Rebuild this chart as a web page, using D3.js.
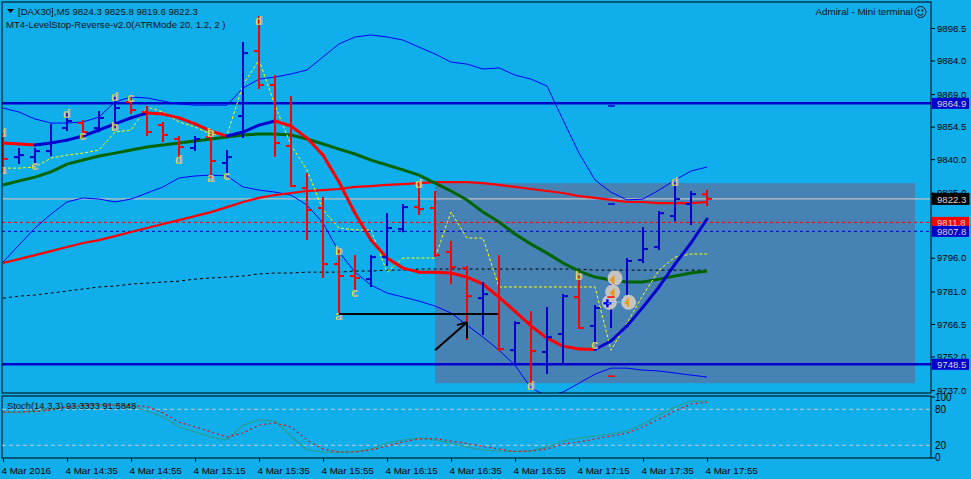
<!DOCTYPE html>
<html><head><meta charset="utf-8">
<script src="https://cdn.jsdelivr.net/npm/d3@7"></script>
<style>
body{margin:0;background:#10aeea;}
svg{display:block;font-family:"Liberation Sans",Arial,sans-serif;}
</style></head><body>
<script>
// bars: DAX30 M5, 4 Mar 2016, first bar 14:15, one bar every 5 minutes
const barStart = new Date(2016, 2, 4, 14, 15);
const barStep = 5;
const opens  = [9848.5,9840.9,9840.9,9843.6,9853.9,9856.1,9853.9,9855.2,9865.5,9861.0,9855.2,9849.0,9845.0,9849.9,9838.3,9859.2,9888.2,9873.1,9845.9,9827.1,9818.2,9793.2,9787.9,9786.5,9796.3,9808.8,9818.6,9818.2,9798.6,9791.4,9778.0,9779.4,9754.8,9767.3,9754.0,9762.0,9778.5,9765.6,9775.8,9778.0,9795.0,9800.8,9814.6,9820.0,9824.3];
const highs  = [9850.8,9844.5,9844.5,9855.2,9860.1,9857.0,9861.0,9867.3,9866.8,9863.3,9856.1,9849.9,9849.9,9850.8,9843.6,9891.8,9903.4,9877.1,9867.7,9833.4,9822.7,9799.9,9796.8,9796.8,9815.5,9819.5,9829.8,9825.3,9803.0,9791.9,9784.7,9796.8,9767.3,9771.8,9773.6,9779.4,9787.4,9774.5,9787.4,9795.4,9809.3,9816.4,9829.3,9825.3,9825.8];
const lows   = [9834.3,9838.3,9838.3,9841.8,9853.0,9849.9,9852.5,9854.3,9860.6,9850.8,9848.1,9840.9,9844.1,9832.0,9834.3,9849.9,9871.7,9841.4,9828.0,9804.4,9787.4,9770.9,9781.6,9783.4,9792.8,9807.9,9815.5,9796.8,9784.7,9759.8,9762.0,9754.8,9749.0,9740.1,9744.6,9749.0,9764.7,9758.0,9765.1,9777.2,9794.1,9799.9,9812.8,9811.1,9819.6];
const closes = [9840.1,9841.8,9843.6,9847.6,9857.0,9852.1,9858.4,9862.8,9861.9,9852.1,9850.8,9845.4,9849.0,9839.2,9840.9,9887.3,9873.1,9847.2,9828.0,9817.3,9793.2,9787.9,9787.0,9796.3,9809.3,9818.6,9817.7,9797.2,9791.9,9778.9,9779.8,9755.3,9766.9,9754.4,9760.6,9778.9,9764.7,9773.6,9783.8,9794.6,9799.9,9815.9,9822.2,9824.4,9822.3];

// indicators, one value per bar
const maFast  = [9847.2,9846.75,9846.3,9847.2,9848.5,9850.3,9853.0,9855.7,9858.4,9860.6,9860.1,9858.4,9855.7,9852.5,9850.3,9852.1,9855.2,9857.0,9854.8,9849.4,9841.8,9829.8,9815.9,9803.9,9795.9,9791.4,9789.6,9789.6,9789.2,9787.4,9784.3,9778.5,9772.1,9765.6,9760.2,9756.6,9755.3,9755.1,9758.9,9765.6,9774.0,9783.0,9793.2,9802.6,9813.3];
const maGreen = [9828.5,9830.3,9832.0,9834.3,9837.8,9839.6,9841.4,9842.7,9844.1,9845.4,9846.3,9847.2,9848.1,9849.0,9849.9,9850.8,9851.2,9851.2,9850.8,9849.0,9846.75,9844.5,9842.3,9839.6,9837.4,9835.2,9832.9,9829.3,9825.8,9821.8,9816.4,9812.0,9806.6,9802.1,9798.1,9793.7,9790.1,9787.4,9786.1,9785.2,9785.2,9786.5,9787.9,9789.2,9790.1];
const maSlow  = [9793.7,9795.4,9797.2,9799.0,9800.8,9802.6,9803.9,9805.7,9807.5,9809.3,9811.1,9812.8,9814.6,9816.4,9818.6,9820.9,9822.7,9824.0,9824.9,9825.8,9826.2,9826.7,9827.6,9828.0,9828.5,9828.9,9829.3,9829.8,9829.8,9829.8,9829.3,9828.5,9827.6,9826.7,9825.8,9824.9,9823.5,9822.7,9821.8,9820.9,9820.9,9820.4,9820.4,9820.4,9820.9];
const maBlack = [9778.0,9778.9,9779.4,9780.3,9781.2,9782.1,9783.0,9783.4,9784.3,9784.7,9785.2,9785.6,9786.5,9787.0,9787.4,9787.9,9788.8,9789.2,9789.2,9789.6,9789.6,9789.6,9790.1,9790.1,9790.5,9790.5,9791.0,9791.0,9791.0,9791.0,9791.0,9791.0,9791.0,9791.0,9791.0,9791.0,9791.0,9790.5,9790.5,9790.5,9790.5,9790.5,9790.5,9790.5,9790.5];
const bandUpper = [9862.8,9861.0,9857.9,9856.1,9856.1,9856.6,9858.8,9865.5,9867.7,9867.3,9865.9,9864.6,9864.1,9864.1,9864.1,9871.7,9875.7,9876.6,9878.0,9879.8,9885.6,9891.4,9894.5,9895.4,9894.5,9893.1,9890.0,9886.9,9883.3,9882.4,9880.2,9880.7,9877.5,9875.7,9872.6,9857.5,9842.7,9830.7,9825.3,9821.8,9822.2,9826.2,9830.7,9834.7,9836.5];
const bandLower = [9794.1,9801.7,9809.3,9815.5,9820.9,9822.7,9822.2,9820.9,9822.2,9824.9,9827.6,9831.6,9832.5,9832.9,9832.5,9827.6,9826.2,9825.3,9824.0,9819.5,9811.5,9798.6,9789.6,9783.8,9780.3,9778.5,9776.7,9774.5,9771.4,9766.0,9760.6,9754.8,9748.1,9737.9,9734.3,9736.1,9740.1,9744.1,9746.8,9746.8,9745.9,9745.5,9744.6,9743.7,9742.8];
const trailStop = [9836.0,9836.0,9836.5,9840.5,9841.8,9842.7,9844.1,9852.1,9853.0,9863.3,9861.0,9856.6,9854.3,9851.2,9850.8,9873.1,9884.2,9864.1,9846.3,9835.2,9817.3,9809.3,9808.4,9808.4,9789.6,9795.9,9795.9,9795.9,9816.4,9804.8,9804.8,9783.0,9783.0,9783.0,9783.0,9783.0,9783.0,9783.0,9754.8,9766.9,9779.4,9790.5,9796.3,9797.7,9797.7];
const stochK = [74.7,74.7,77.2,80.5,83.8,86.3,87.2,87.2,85.5,77.2,67.2,50.5,42.2,33.8,28.8,53.8,62.2,60.5,35.5,12.2,8.8,8.0,9.7,13.8,23.8,28.8,32.2,28.8,23.8,17.2,12.2,10.5,9.7,10.5,17.2,27.2,32.2,35.5,38.8,43.8,55.5,70.5,83.8,93.8,93.3333];
const stochD = [75.5,75.5,76.3,78.8,83.8,86.3,87.2,87.2,86.3,84.7,73.8,58.8,50.5,42.2,33.8,40.5,53.8,57.2,50.5,28.8,13.8,8.8,8.8,12.2,18.8,25.5,30.5,31.3,27.2,23.0,18.0,13.8,9.7,10.5,13.8,22.2,25.5,30.5,35.5,40.5,50.5,63.8,77.2,88.8,91.5848];

// fractal letters: [bar, price, letter]
const fractalMarks = [[0,9851.7,"d"],[0,9835.2,"a"],[2,9836.9,"c"],[4,9860.1,"d"],[5,9850.3,"c"],[7,9867.7,"d"],[7,9854.3,"b"],[8,9867.3,"c"],[11,9839.6,"d"],[13,9851.7,"b"],[13,9831.6,"a"],[14,9832.5,"c"],[16,9901.6,"d"],[21,9799.0,"b"],[21,9770.0,"a"],[22,9780.3,"c"],[26,9828.9,"d"],[33,9738.8,"d"],[36,9787.9,"b"],[37,9757.1,"c"],[42,9829.8,"d"]];
// trade marks around bar 38: [bar, price]
const tradeCircles = [[38.25,9787.0],[38.1,9780.7],[37.9,9776.2],[39.1,9776.2]];
const tradeArrows = [[38.1,9786.1],[38.1,9780.3],[39.0,9776.2]];
const stopMarks = [[38.0,9863.7,"#0000cd"],[38.0,9820.0,"#0000cd"],[38.0,9743.2,"#ff0000"]];

const priceTicks = [9898.5,9884.0,9869.0,9854.5,9840.0,9825.0,9796.0,9781.0,9766.5,9752.0,9737.0];
const timeTicks = ["14:15","14:35","14:55","15:15","15:35","15:55","16:15","16:35","16:55","17:15","17:35","17:55"];
const timeTickLabels = ["4 Mar 2016","4 Mar 14:35","4 Mar 14:55","4 Mar 15:15","4 Mar 15:35","4 Mar 15:55","4 Mar 16:15","4 Mar 16:35","4 Mar 16:55","4 Mar 17:15","4 Mar 17:35","4 Mar 17:55"];

const hLines = [
  {price: 9864.9, color: "#0000cd", width: 2.5, dash: null, label: "#0000cd"},
  {price: 9748.5, color: "#0000cd", width: 2.5, dash: null, label: "#0000cd"},
  {price: 9822.3, color: "#c0c0c0", width: 1.2, dash: null, label: "#000000"},
  {price: 9811.8, color: "#ff0000", width: 1, dash: "3,3", label: "#ff0000"},
  {price: 9807.8, color: "#0000cd", width: 1, dash: "3,3", label: "#0000cd"}
];

const W = 971, H = 479;
const panel = {left: 2, right: 931, top: 2, bottom: 393};
const sub = {top: 396, bottom: 458};
const BULL = "#0000cd", BEAR = "#ff0000";
const FONT = "Liberation Sans, Arial, sans-serif";

const barTime = i => new Date(barStart.getTime() + i * barStep * 60000);
const parseHM = d3.timeParse("%Y-%m-%d %H:%M");

const x = d3.scaleTime()
  .domain([barTime(0), barTime(44)])
  .range([3, 707]);
const y = d3.scaleLinear().domain([9735.7, 9910.1]).range([393, 2]);
const ys = d3.scaleLinear().domain([0, 100]).range([457.3, 397.3]);
const xi = i => x(barTime(i));

const svg = d3.select("body").append("svg").attr("width", W).attr("height", H);
svg.append("rect").attr("width", W).attr("height", H).attr("fill", "#10aeea");

const defs = svg.append("defs");
defs.append("clipPath").attr("id", "clipMain").append("rect")
  .attr("x", panel.left).attr("y", panel.top)
  .attr("width", panel.right - panel.left).attr("height", panel.bottom - panel.top);
defs.append("clipPath").attr("id", "clipSub").append("rect")
  .attr("x", panel.left).attr("y", sub.top)
  .attr("width", panel.right - panel.left).attr("height", sub.bottom - sub.top);

const main = svg.append("g").attr("clip-path", "url(#clipMain)");

// shaded box (drawn behind everything)
main.append("rect")
  .attr("x", xi(27)).attr("y", y(9829.3))
  .attr("width", xi(57) - xi(27)).attr("height", y(9740.1) - y(9829.3))
  .attr("fill", "#4782b4");

// horizontal levels
hLines.forEach(l => {
  main.append("line")
    .attr("x1", panel.left).attr("x2", panel.right)
    .attr("y1", y(l.price)).attr("y2", y(l.price))
    .attr("stroke", l.color).attr("stroke-width", l.width)
    .attr("stroke-dasharray", l.dash);
});

const line = vals => d3.line().x((d, i) => xi(i)).y(d => y(d))(vals);

// envelope + black dashed middle
[bandUpper, bandLower].forEach(b => {
  main.append("path").attr("d", line(b)).attr("fill", "none")
    .attr("stroke", "#0000ff").attr("stroke-width", 1);
});
main.append("path").attr("d", line(maBlack)).attr("fill", "none")
  .attr("stroke", "#000").attr("stroke-width", 1).attr("stroke-dasharray", "3,3");

// slow red and green averages
main.append("path").attr("d", line(maSlow)).attr("fill", "none")
  .attr("stroke", "#ff0000").attr("stroke-width", 2.2);
main.append("path").attr("d", line(maGreen)).attr("fill", "none")
  .attr("stroke", "#006400").attr("stroke-width", 3);

// trailing stop, thin yellow dashes
main.append("path").attr("d", line(trailStop)).attr("fill", "none")
  .attr("stroke", "#ffff00").attr("stroke-width", 1).attr("stroke-dasharray", "3,2");

// fast average, coloured by slope
for (let i = 0; i < maFast.length - 1; i++) {
  main.append("line")
    .attr("x1", xi(i)).attr("y1", y(maFast[i]))
    .attr("x2", xi(i + 1)).attr("y2", y(maFast[i + 1]))
    .attr("stroke", maFast[i + 1] > maFast[i] ? BULL : BEAR)
    .attr("stroke-width", 3).attr("stroke-linecap", "round");
}

// OHLC bars
const bars = main.append("g");
opens.forEach((o, i) => {
  const c = closes[i], cx = xi(i);
  const col = c >= o ? BULL : BEAR;
  const g = bars.append("g").attr("stroke", col).attr("stroke-width", 2);
  g.append("line").attr("x1", cx).attr("x2", cx).attr("y1", y(highs[i]) - 1).attr("y2", y(lows[i]) + 1);
  g.append("line").attr("x1", cx - 5).attr("x2", cx).attr("y1", y(o)).attr("y2", y(o));
  g.append("line").attr("x1", cx).attr("x2", cx + 5).attr("y1", y(c)).attr("y2", y(c));
});

// fractal letters
fractalMarks.forEach(([b, p, t]) => {
  main.append("text").attr("x", xi(b) - 0.7).attr("y", y(p) + 4)
    .attr("text-anchor", "middle").attr("font-size", 12).attr("fill", "#e8e830").text(t);
  main.append("text").attr("x", xi(b) + 0.7).attr("y", y(p) + 4)
    .attr("text-anchor", "middle").attr("font-size", 12).attr("fill", "#b0b0b0").text(t);
});

// trade marks
tradeCircles.forEach(([b, p]) => {
  main.append("circle").attr("cx", xi(b)).attr("cy", y(p)).attr("r", 7.5).attr("fill", "#c4c4c4");
});
tradeArrows.forEach(([b, p]) => {
  const cx = xi(b), cy = y(p);
  main.append("path").attr("d", `M${cx - 3},${cy} L${cx + 2},${cy - 5} L${cx + 2},${cy + 5} Z`).attr("fill", "#e89a1a");
});
stopMarks.forEach(([b, p, col]) => {
  main.append("line").attr("x1", xi(b) - 3).attr("x2", xi(b) + 4)
    .attr("y1", y(p)).attr("y2", y(p)).attr("stroke", col).attr("stroke-width", 1.5);
});
{
  const cx = xi(37.9) - 2, cy = y(9776.2) + 1;
  main.append("path").attr("d", `M${cx - 4},${cy} H${cx + 4} M${cx},${cy - 4} V${cy + 4}`)
    .attr("stroke", "#0000ff").attr("stroke-width", 2.5);
  main.append("line").attr("x1", cx).attr("x2", xi(39.1)).attr("y1", cy).attr("y2", cy - 2)
    .attr("stroke", "#7fd6f0").attr("stroke-width", 1).attr("stroke-dasharray", "3,2");
  main.append("line").attr("x1", xi(37.9) - 2).attr("x2", xi(37.9) + 5)
    .attr("y1", y(9778.5)).attr("y2", y(9778.5)).attr("stroke", "#ff0000").attr("stroke-width", 1.5);
}

// black level line and arrow
main.append("line").attr("x1", xi(21)).attr("x2", xi(30.95))
  .attr("y1", y(9770.9)).attr("y2", y(9770.9)).attr("stroke", "#000").attr("stroke-width", 2);
{
  const x1 = xi(27), y1 = y(9754.8), x2 = xi(29), y2 = y(9767.3);
  main.append("path")
    .attr("d", `M${x1},${y1} L${x2},${y2} M${x2},${y2} L${x2 - 10},${y2 + 3} M${x2},${y2} L${x2},${y2 + 16}`)
    .attr("stroke", "#000").attr("stroke-width", 2).attr("fill", "none");
}

// header texts
svg.append("path").attr("d", "M7,9 H14 L10.5,13 Z").attr("fill", "#000");
svg.append("text").attr("x", 18).attr("y", 15).attr("font-size", 9.6).attr("fill", "#111")
  .text("[DAX30],M5  9824.3 9825.8 9819.6 9822.3");
svg.append("text").attr("x", 6).attr("y", 28).attr("font-size", 9.6).attr("fill", "#111")
  .text("MT4-LevelStop-Reverse-v2.0(ATRMode 20, 1.2, 2 )");
svg.append("text").attr("x", 913).attr("y", 15).attr("font-size", 9.8).attr("fill", "#111")
  .attr("text-anchor", "end").text("Admiral - Mini terminal");
{
  const sg = svg.append("g").attr("stroke", "#111").attr("fill", "none").attr("stroke-width", 1);
  sg.append("circle").attr("cx", 920.5).attr("cy", 12).attr("r", 5.5);
  sg.append("path").attr("d", "M917.5,13.5 Q920.5,17 923.5,13.5");
  sg.append("circle").attr("cx", 918.5).attr("cy", 10.5).attr("r", 0.6).attr("fill", "#111");
  sg.append("circle").attr("cx", 922.5).attr("cy", 10.5).attr("r", 0.6).attr("fill", "#111");
}

// panel frames
svg.append("rect").attr("x", panel.left).attr("y", panel.top)
  .attr("width", panel.right - panel.left).attr("height", panel.bottom - panel.top)
  .attr("fill", "none").attr("stroke", "#000").attr("stroke-width", 1);
svg.append("rect").attr("x", panel.left).attr("y", sub.top)
  .attr("width", panel.right - panel.left).attr("height", sub.bottom - sub.top)
  .attr("fill", "none").attr("stroke", "#000").attr("stroke-width", 1);

// price axis
const yAxis = d3.axisRight(y).tickValues(priceTicks).tickSize(4).tickFormat(d3.format(".1f"));
svg.append("g").attr("transform", `translate(${panel.right},0)`).call(yAxis)
  .call(g => g.select(".domain").remove())
  .call(g => g.selectAll("line").attr("stroke", "#000"))
  .call(g => g.selectAll("text").attr("x", 6).attr("font-size", 9.6).attr("fill", "#000")
    .attr("font-family", FONT));

// price label boxes
hLines.forEach(l => {
  const cy = y(l.price);
  svg.append("rect").attr("x", panel.right + 1).attr("y", cy - 5.5).attr("width", 37).attr("height", 11)
    .attr("fill", l.label).attr("stroke", l.label === "#000000" ? "#000" : "none");
  svg.append("text").attr("x", panel.right + 6).attr("y", cy + 3.8).attr("font-size", 9.6)
    .attr("fill", "#d8d8d8").text(d3.format(".1f")(l.price));
});

// stochastic
const subG = svg.append("g").attr("clip-path", "url(#clipSub)");
[80, 20].forEach(v => {
  subG.append("line").attr("x1", panel.left).attr("x2", panel.right)
    .attr("y1", ys(v)).attr("y2", ys(v))
    .attr("stroke", "#c8c8c8").attr("stroke-width", 1).attr("stroke-dasharray", "4,3");
});
const sline = vals => d3.line().x((d, i) => xi(i)).y(d => ys(d))(vals);
subG.append("path").attr("d", sline(stochK)).attr("fill", "none")
  .attr("stroke", "#2e9a84").attr("stroke-width", 1.1);
subG.append("path").attr("d", sline(stochD)).attr("fill", "none")
  .attr("stroke", "#ff0000").attr("stroke-width", 1.2).attr("stroke-dasharray", "2,3");
svg.append("text").attr("x", 7).attr("y", 409).attr("font-size", 9.4).attr("fill", "#111")
  .text("Stoch(14,3,3) 93.3333 91.5848");

const sAxis = d3.axisRight(ys).tickValues([100, 80, 20, 0]).tickSize(4).tickFormat(d3.format("d"));
svg.append("g").attr("transform", `translate(${panel.right},0)`).call(sAxis)
  .call(g => g.select(".domain").remove())
  .call(g => g.selectAll("line").remove())
  .call(g => g.selectAll("text").attr("x", 4).attr("font-size", 10).attr("fill", "#000")
    .attr("font-family", FONT));
[sub.top + 1, sub.bottom].forEach(v => {
  svg.append("line").attr("x1", panel.right).attr("x2", panel.right + 4).attr("y1", v).attr("y2", v).attr("stroke", "#000");
});

// time axis
const tickDates = timeTicks.map(t => parseHM("2016-03-04 " + t));
const xAxis = d3.axisBottom(x).tickValues(tickDates).tickSize(4)
  .tickFormat((d, i) => timeTickLabels[i]);
svg.append("g").attr("transform", `translate(0,${sub.bottom})`).call(xAxis)
  .call(g => g.select(".domain").remove())
  .call(g => g.selectAll("line").attr("stroke", "#000"))
  .call(g => g.selectAll("text").attr("text-anchor", "start").attr("dx", -2).attr("dy", "0.9em")
    .attr("font-size", 9.8).attr("fill", "#000").attr("font-family", FONT));
</script>
</body></html>
